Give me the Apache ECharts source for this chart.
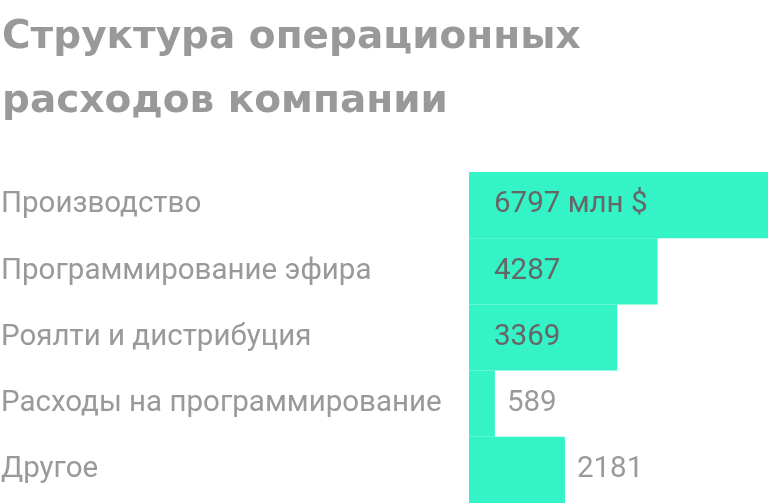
<!doctype html>
<html lang="ru">
<head>
    <meta charset="UTF-8">
    <title>Структура операционных расходов компании</title>
    <script src="https://cdn.jsdelivr.net/npm/echarts@6/dist/echarts.min.js"></script>
    <style>
        html, body {
            margin: 0;
            padding: 0;
            background-color: #ffffff;
        }

        #mainChart {
            width: 768px;
            height: 503px;
        }
    </style>
</head>
<body>
<div id="mainChart"></div>
<script>
    // данные графика
    let categories = ['Производство', 'Программирование эфира', 'Роялти и дистрибуция', 'Расходы на программирование', 'Другое'];
    let values = [6797, 4287, 3369, 589, 2181];
    let outsideLabels = [false, false, false, true, true]; // подпись справа от столбца
    let unit = ' млн $';

    function chartInit() {
        let myChart = echarts.init(document.getElementById('mainChart'));
        let font = 'Roboto';

        let seriesData = values.map(function (v, i) {
            let item = {value: v};
            if (outsideLabels[i]) {
                item.label = {position: 'right', distance: 12, color: '#9a9a9a'};
            }
            return item;
        });

        let option = {
            animation: false,
            title: {
                text: 'Структура операционных\nрасходов компании',
                left: -3,
                top: 1,
                textStyle: {
                    fontFamily: 'DejaVu Sans',
                    fontWeight: 'bold',
                    fontSize: 39,
                    lineHeight: 64,
                    color: '#999999'
                }
            },
            grid: {
                left: 469,
                right: 0,
                top: 172,
                bottom: 0,
                outerBoundsMode: 'none'
            },
            xAxis: {
                type: 'value',
                min: 0,
                max: Math.max.apply(null, values),
                show: false
            },
            yAxis: {
                type: 'category',
                data: categories,
                inverse: true,
                axisLine: {show: false},
                axisTick: {show: false},
                splitLine: {show: false},
                axisLabel: {
                    align: 'left',
                    margin: 468,
                    padding: [4, 0, 0, 0],
                    fontFamily: font,
                    fontSize: 29.5,
                    color: '#999999'
                }
            },
            series: [{
                type: 'bar',
                data: seriesData,
                barCategoryGap: 0,
                itemStyle: {color: '#34f3c6'},
                label: {
                    show: true,
                    position: 'insideLeft',
                    distance: 25,
                    padding: [4, 0, 0, 0],
                    fontFamily: font,
                    fontSize: 29.5,
                    color: '#666666',
                    formatter: function (p) {
                        return p.dataIndex === 0 ? p.value + unit : p.value;
                    }
                }
            }]
        };

        option && myChart.setOption(option);
    }

    chartInit();
</script>
</body>
</html>
